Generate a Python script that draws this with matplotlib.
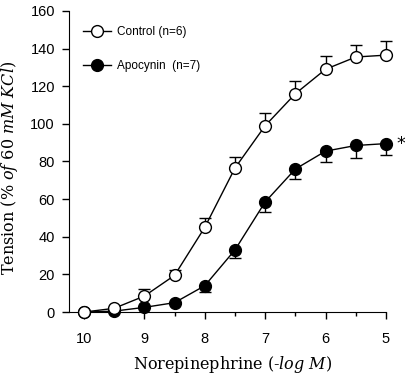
import matplotlib
matplotlib.use("Agg")
from matplotlib import pyplot as plt
from matplotlib.ticker import MultipleLocator

# concentration (-log M)
conc = [10, 9.5, 9, 8.5, 8, 7.5, 7, 6.5, 6, 5.5, 5]
control = [0, 2, 8.5, 19.5, 45, 76.5, 99, 116, 129, 135.5, 136.5]
control_err = [0, 0, 3.5, 3, 5, 6, 6.5, 7, 7, 6.5, 7.5]
apocynin = [0, 0.5, 2.5, 5, 14, 33, 58.5, 76, 85.5, 88.5, 89.5]
apocynin_err = [0, 0, 0, 0, 3.5, 4.5, 5.5, 5.5, 6, 6.5, 6]

plt.rcParams['mathtext.fontset'] = 'custom'
plt.rcParams['mathtext.it'] = 'DejaVu Serif:italic'
plt.rcParams['mathtext.rm'] = 'DejaVu Serif'

fig = plt.figure(figsize=(4.05, 3.76), dpi=100)
ax = fig.add_axes([0.170, 0.170, 0.783, 0.801])

# error bars: control upward, apocynin downward
ax.errorbar(conc, apocynin, yerr=[apocynin_err, [0]*len(conc)], fmt='none',
            ecolor='black', elinewidth=1, capsize=4, capthick=1, zorder=2, clip_on=False)
ax.errorbar(conc, control, yerr=[[0]*len(conc), control_err], fmt='none',
            ecolor='black', elinewidth=1, capsize=4, capthick=1, zorder=2, clip_on=False)

ax.plot(conc, apocynin, '-o', color='black', mfc='black', mec='black',
        ms=8.5, lw=1, label='Apocynin  (n=7)', zorder=3, clip_on=False)
ax.plot(conc, control, '-o', color='black', mfc='white', mec='black',
        ms=8.5, lw=1, mew=1, label='Control (n=6)', zorder=4, clip_on=False)

ax.set_xlim(10.25, 5)
ax.set_ylim(0, 160)
ax.xaxis.set_major_locator(MultipleLocator(1))
ax.xaxis.set_minor_locator(MultipleLocator(0.5))
ax.yaxis.set_major_locator(MultipleLocator(20))
ax.spines['top'].set_visible(False)
ax.spines['right'].set_visible(False)
ax.tick_params(axis='both', which='major', direction='out', length=5, width=1,
               labelsize=10.5, pad=5)
ax.tick_params(axis='x', which='major', pad=9)
ax.tick_params(axis='x', which='minor', direction='out', length=3, width=1)
for lab in ax.get_xticklabels() + ax.get_yticklabels():
    lab.set_family('Liberation Sans')

ax.set_xlabel('Norepinephrine $\\mathit{(\u2010log\\ M)}$', fontsize=11.5,
              family='DejaVu Serif')
ax.set_ylabel(r'Tension $\mathit{(\%\ of\ 60\ mM\ KCl)}$', fontsize=11.5,
              family='DejaVu Serif')
ax.xaxis.set_label_coords(0.517, -0.14)
ax.yaxis.set_label_coords(-0.155, 0.48)

handles, labels = ax.get_legend_handles_labels()
ax.legend(handles[::-1], labels[::-1], loc='upper left', bbox_to_anchor=(0.01, 0.985),
          frameon=False, handlelength=2.4, handletextpad=0.5, labelspacing=1.9,
          prop={'family': 'Liberation Sans', 'size': 8.5})

ax.text(4.82, 89.5, '*', fontsize=13, ha='left', va='center', clip_on=False)

fig.savefig("out.png", dpi=100)
